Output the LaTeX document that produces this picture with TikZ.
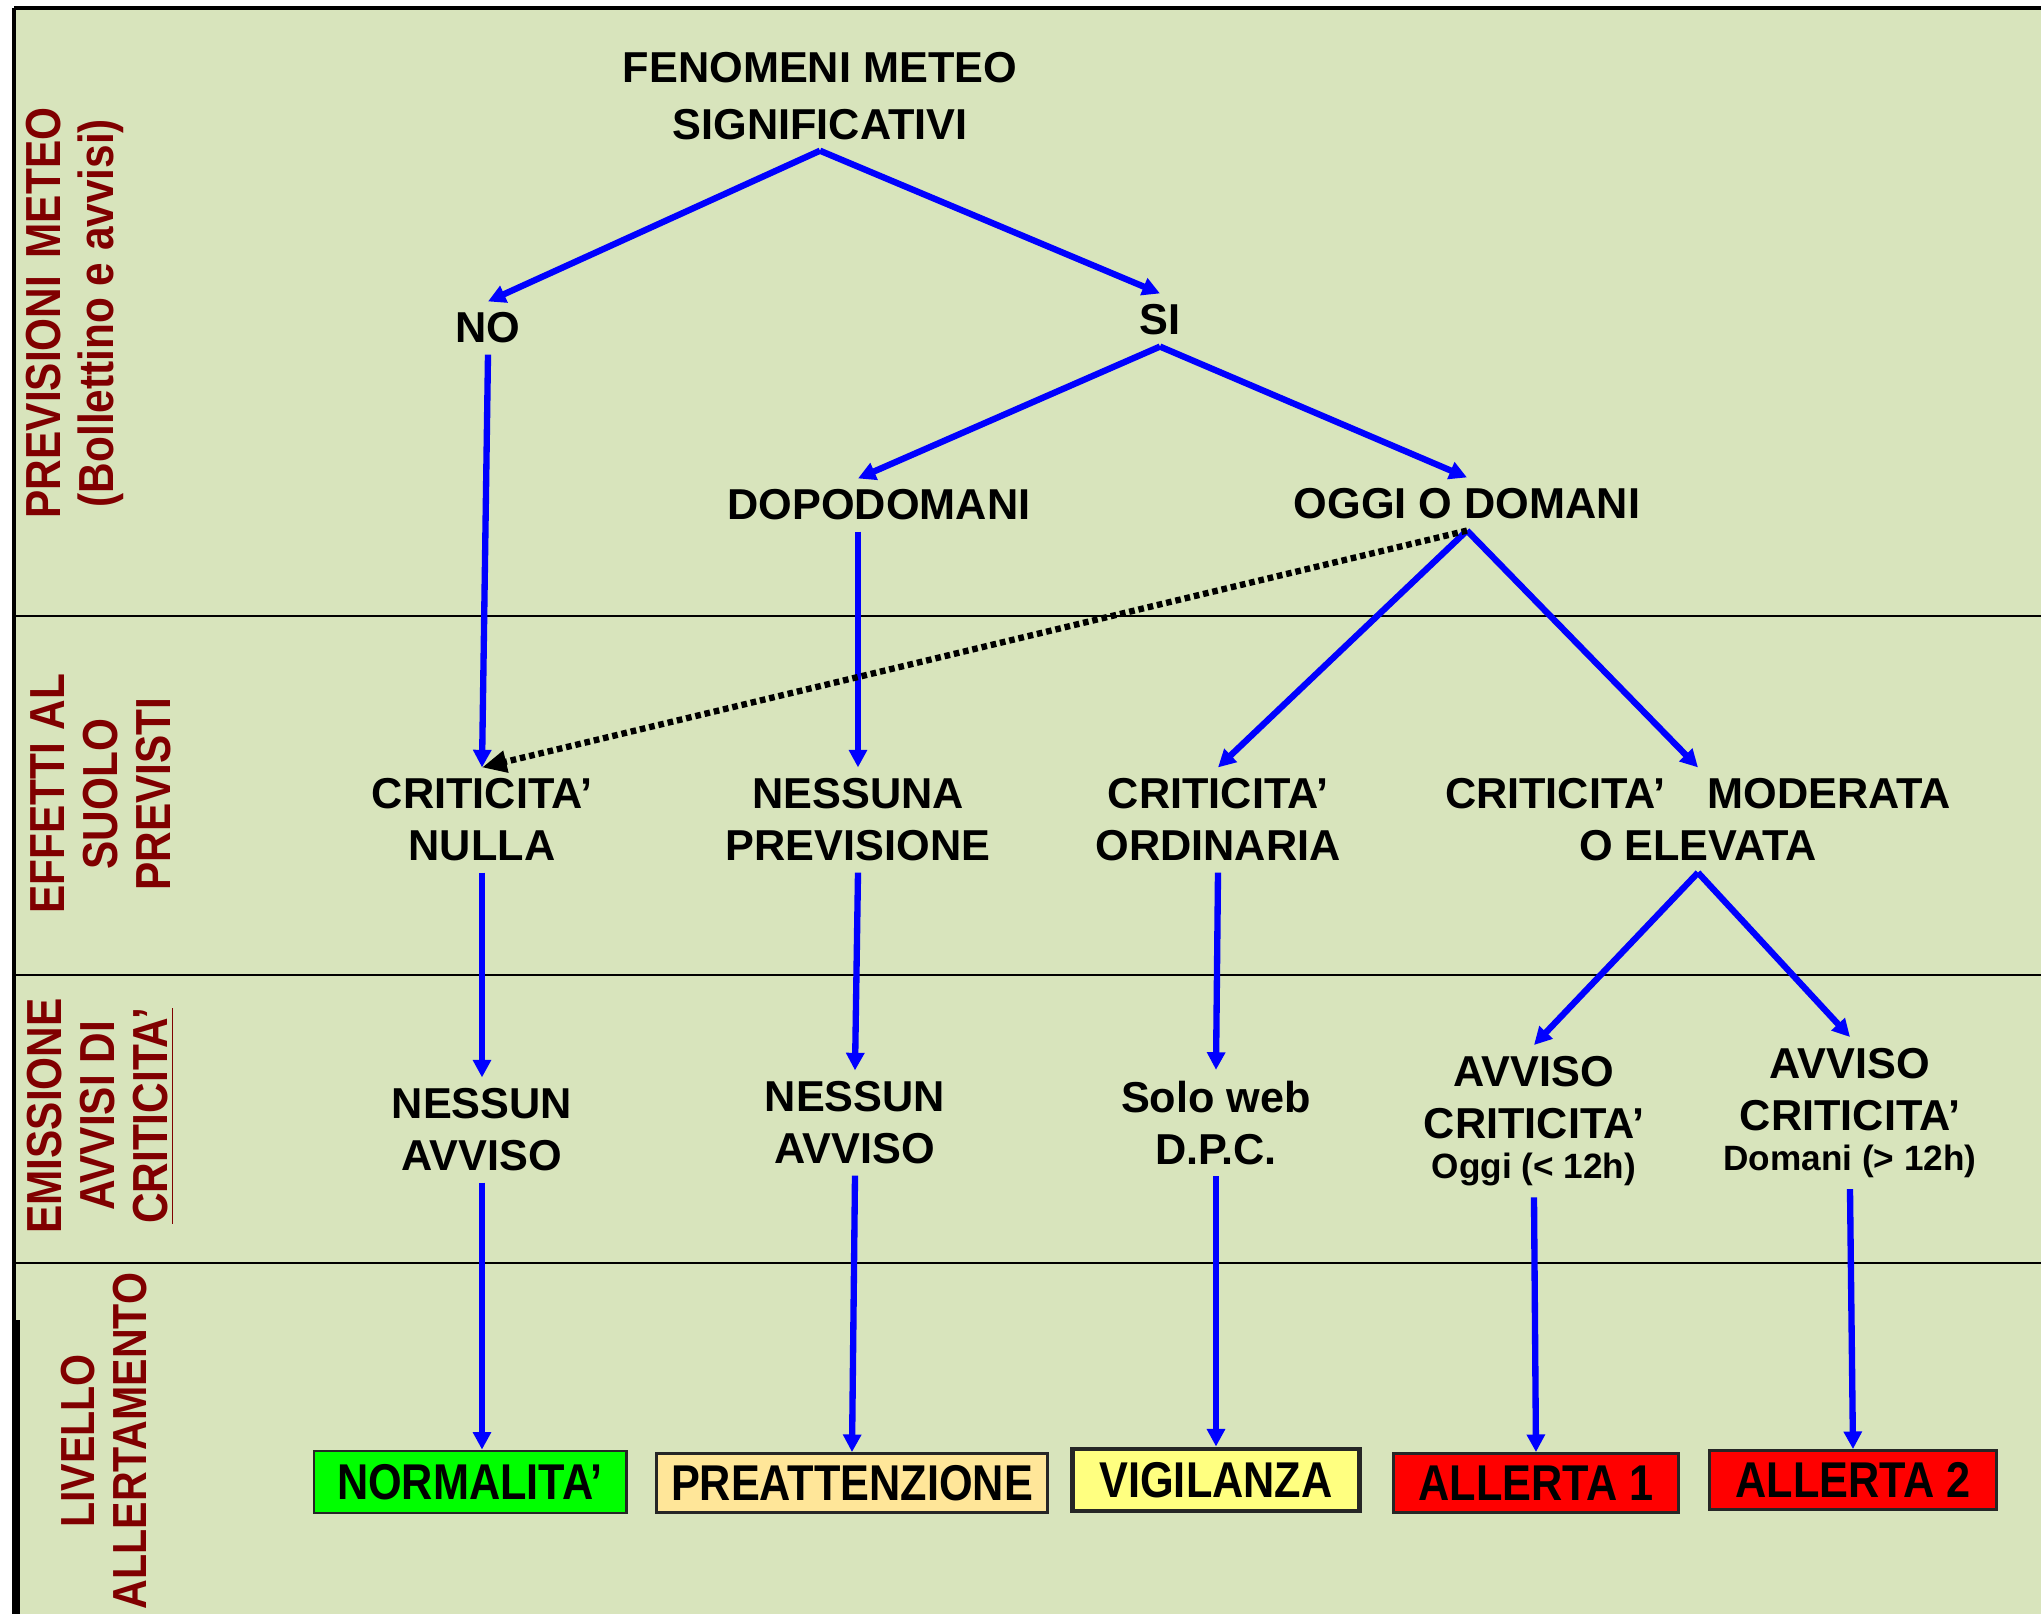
\documentclass[tikz,border=0pt]{standalone}
\usepackage{fontspec}
\setmainfont{Liberation Sans}
\newfontfamily\narrowfont[FakeStretch=0.86]{Liberation Sans}
\usepackage{tikz}
\usetikzlibrary{arrows.meta}
\usepackage{xcolor}
\definecolor{panel}{HTML}{D8E4BC}
\definecolor{labred}{HTML}{800000}
\definecolor{preatt}{HTML}{FFE699}
\definecolor{vigil}{HTML}{FFFF80}

\begin{document}
\begin{tikzpicture}[x=0.01cm,y=-0.01cm,>={Triangle[length=5pt,width=5pt]},line cap=butt,
  txt/.style={font=\fontsize{12.3}{14.8}\selectfont\bfseries,align=center,inner sep=3pt},
  lab/.style={rotate=90,text=labred,font=\narrowfont\fontsize{14}{15}\selectfont\bfseries,align=center,inner sep=0pt},
  lvl/.style={draw=black!85,line width=0.8pt,font=\narrowfont\fontsize{14.3}{16}\selectfont\bfseries,inner sep=0pt},
  flow/.style={->,blue,line width=1.8pt},
  jump/.style={-{Triangle[length=7pt,width=6pt]},black,line width=1.8pt,dash pattern=on 1.6pt off 1.1pt}]
\useasboundingbox (0,0) rectangle (2041,1614);
\fill[white] (0,0) rectangle (2041,1614);
\fill[panel] (14,8) rectangle (2041,1614);
\draw[line width=1.1pt] (14,8) -- (2041,8);
\draw[line width=0.9pt] (14,8) -- (14,1614);
\draw[line width=2pt] (16,1320) -- (16,1614);
\draw[line width=0.6pt] (14,616) -- (2041,616);
\draw[line width=0.6pt] (14,975) -- (2041,975);
\draw[line width=0.6pt] (14,1263) -- (2041,1263);

\node[lab] (lprev) at (75,313) {PREVISIONI\hspace{5pt}METEO\\(Bollettino e avvisi)};
\node[lab] (leff) at (101,794) {EFFETTI AL\\SUOLO\\PREVISTI};
\node[lab] (lemi) at (101,1116) {EMISSIONE\\AVVISI DI\\\underline{CRITICITA’}};
\node[lab,font=\narrowfont\fontsize{13.6}{15}\selectfont\bfseries] (lliv) at (104,1441) {LIVELLO\\ALLERTAMENTO};

\node[txt,font=\fontsize{12.3}{16}\selectfont\bfseries] (fen) at (820,96) {FENOMENI METEO\\SIGNIFICATIVI};
\node[txt] (no) at (488,328) {NO};
\node[txt] (si) at (1160,320) {SI};
\node[txt] (dopo) at (879,505) {DOPODOMANI};
\node[txt] (oggi) at (1467,504) {OGGI O DOMANI};
\node[txt] (cnul) at (482,820) {CRITICITA’\\NULLA};
\node[txt] (nprev) at (858,820) {NESSUNA\\PREVISIONE};
\node[txt] (cord) at (1218,820) {CRITICITA’\\ORDINARIA};
\node[txt] (cmod) at (1698,820) {CRITICITA’\hspace{12pt}MODERATA\\O ELEVATA};
\node[txt] (nav1) at (482,1130) {NESSUN\\AVVISO};
\node[txt] (nav2) at (855,1123) {NESSUN\\AVVISO};
\node[txt] (web) at (1216,1123) {Solo web\\D.P.C.};
\node[txt,anchor=north] (avv1) at (1534,1045) {AVVISO\\CRITICITA’\\[-3.4pt]{\fontsize{10}{12}\selectfont Oggi (< 12h)}};
\node[txt,anchor=north] (avv2) at (1850,1037) {AVVISO\\CRITICITA’\\[-3.4pt]{\fontsize{10}{12}\selectfont Domani (> 12h)}};

\node[lvl,fill=green,minimum width=3.12cm,minimum height=0.62cm] (norm) at (470,1482) {NORMALITA’};
\node[lvl,fill=preatt,minimum width=3.90cm,minimum height=0.59cm] (preat) at (852,1483) {PREATTENZIONE};
\node[lvl,fill=vigil,line width=1.4pt,minimum width=2.87cm,minimum height=0.62cm] (vigi) at (1216,1480) {VIGILANZA};
\node[lvl,fill=red,minimum width=2.85cm,minimum height=0.59cm] (all1) at (1536,1483) {ALLERTA 1};
\node[lvl,fill=red,minimum width=2.87cm,minimum height=0.59cm] (all2) at (1853,1480) {ALLERTA 2};

\draw[flow] (fen.south) -- (no.north);
\draw[flow] (fen.south) -- (si.north);
\draw[flow] (si.south) -- (dopo.north -| nprev.north);
\draw[flow] (si.south) -- (oggi.north);
\draw[flow] (no.south) -- (cnul.north);
\draw[flow] (dopo.south -| nprev.north) -- (nprev.north);
\draw[flow] (oggi.south) -- (cord.north);
\draw[flow] (oggi.south) -- (cmod.north);
\draw[jump] (oggi.south) -- (cnul.north);
\draw[flow] (cnul.south) -- (nav1.north);
\draw[flow] (nprev.south) -- (nav2.north);
\draw[flow] (cord.south) -- (web.north);
\draw[flow] (cmod.south) -- (avv1.north);
\draw[flow] (cmod.south) -- (avv2.north);
\draw[flow] (nav1.south) -- (nav1.south |- norm.north);
\draw[flow] (nav2.south) -- (preat.north);
\draw[flow] (web.south) -- (vigi.north);
\draw[flow] (avv1.south) -- (all1.north);
\draw[flow] (avv2.south) -- (all2.north);
\end{tikzpicture}
\end{document}
